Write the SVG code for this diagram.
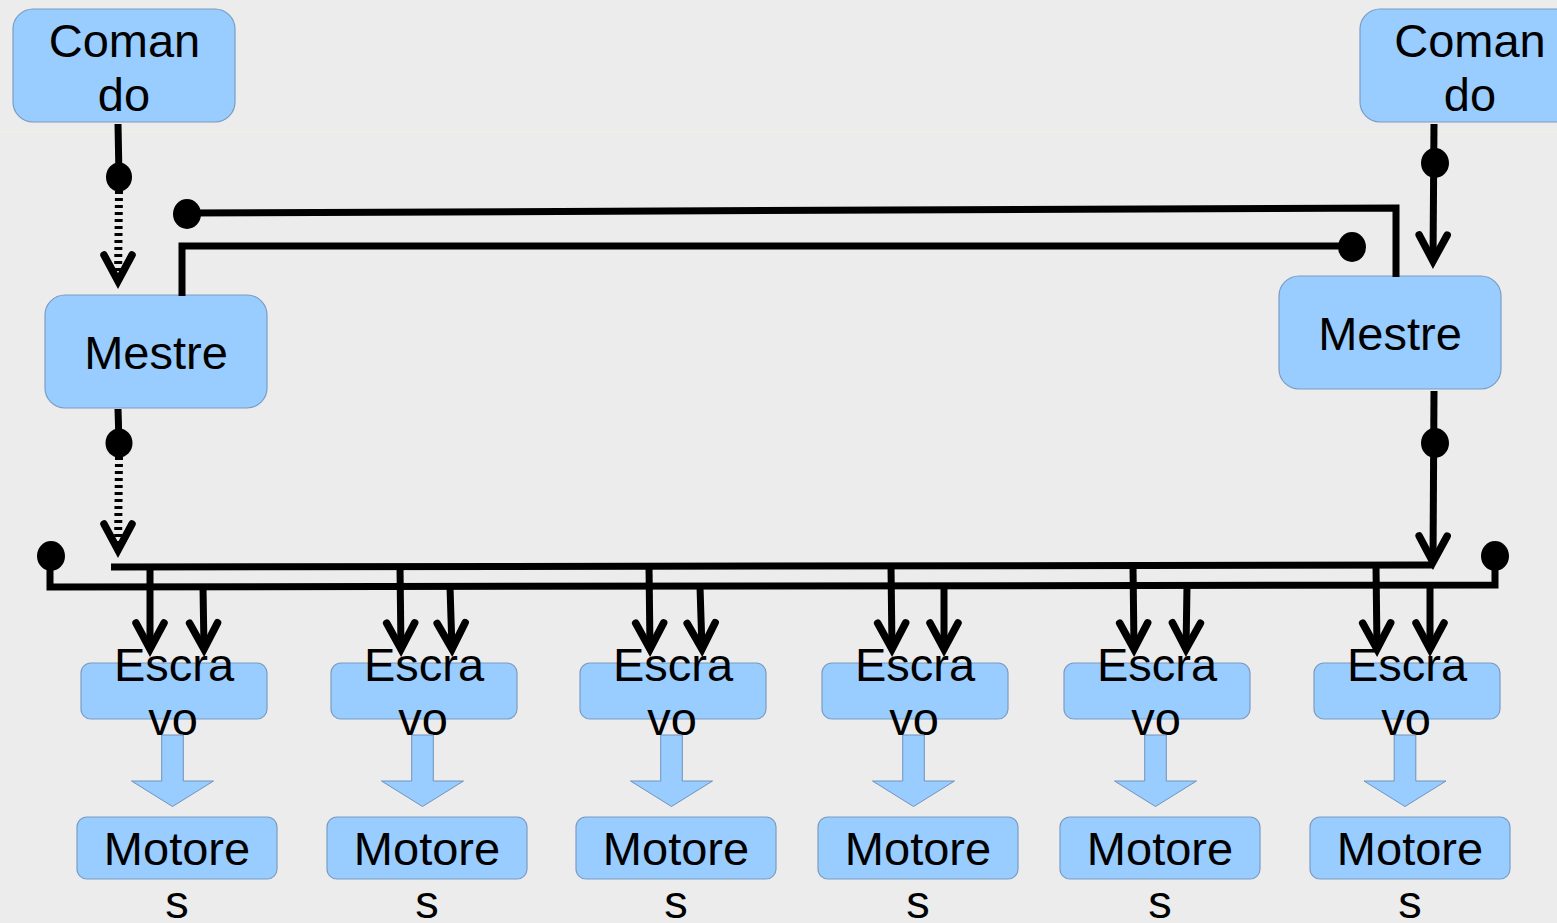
<svg xmlns="http://www.w3.org/2000/svg" width="1557" height="923" viewBox="0 0 1557 923">
<style>
.box{fill:#99ccff;stroke:#7b9cc2;stroke-width:1.2}
.t{font-family:"Liberation Sans",Arial,sans-serif;font-size:47px;fill:#000;text-anchor:middle}
.ln{fill:none;stroke:#000;stroke-width:7;stroke-linejoin:miter}
.dot{fill:#000}
.dash{fill:none;stroke:#000;stroke-width:8;stroke-dasharray:3 4}
.blk{fill:#99ccff;stroke:#6f93bd;stroke-width:1}
</style>
<defs>
<marker id="ah" markerUnits="userSpaceOnUse" viewBox="-40 -20 55 40" refX="0" refY="0" markerWidth="55" markerHeight="40" orient="auto" overflow="visible">
<path d="M-26,-14 L0,0 L-26,14" fill="none" stroke="#000" stroke-width="7.5" stroke-linecap="round" stroke-linejoin="miter"/>
</marker>
<path id="barr" d="M-10.8,0 L10.8,0 L10.8,46 L41,46 L0,71.5 L-41,46 L-10.8,46 Z"/>
</defs>
<rect width="1557" height="923" fill="#ececec"/>
<line x1="0" y1="131.5" x2="1557" y2="131.5" stroke="#f2f2d6" stroke-width="1"/>

<g id="comando-left"><rect class="box" x="13" y="9" width="222" height="113" rx="20"/><text class="t" x="124.5" y="57">Coman</text><text class="t" x="124" y="111">do</text></g>
<g id="comando-right"><rect class="box" x="1360" y="9" width="222" height="113" rx="20"/><text class="t" x="1470" y="57">Coman</text><text class="t" x="1470" y="111">do</text></g>
<g id="mestre-left"><rect class="box" x="45" y="295" width="222" height="113" rx="20"/><text class="t" x="156" y="369">Mestre</text></g>
<g id="mestre-right"><rect class="box" x="1279" y="276" width="222" height="113" rx="20"/><text class="t" x="1390" y="350">Mestre</text></g>

<g id="escravo-1"><rect class="box" x="81" y="663" width="186" height="56" rx="10"/><text class="t" x="174" y="681">Escra</text><text class="t" x="173" y="735">vo</text></g>
<g id="escravo-2"><rect class="box" x="331" y="663" width="186" height="56" rx="10"/><text class="t" x="424" y="681">Escra</text><text class="t" x="423" y="735">vo</text></g>
<g id="escravo-3"><rect class="box" x="580" y="663" width="186" height="56" rx="10"/><text class="t" x="673" y="681">Escra</text><text class="t" x="672" y="735">vo</text></g>
<g id="escravo-4"><rect class="box" x="822" y="663" width="186" height="56" rx="10"/><text class="t" x="915" y="681">Escra</text><text class="t" x="914" y="735">vo</text></g>
<g id="escravo-5"><rect class="box" x="1064" y="663" width="186" height="56" rx="10"/><text class="t" x="1157" y="681">Escra</text><text class="t" x="1156" y="735">vo</text></g>
<g id="escravo-6"><rect class="box" x="1314" y="663" width="186" height="56" rx="10"/><text class="t" x="1407" y="681">Escra</text><text class="t" x="1406" y="735">vo</text></g>

<g id="motores-1"><rect class="box" x="77" y="817" width="200" height="62" rx="10"/><text class="t" x="177" y="865">Motore</text><text class="t" x="177" y="918">s</text></g>
<g id="motores-2"><rect class="box" x="327" y="817" width="200" height="62" rx="10"/><text class="t" x="427" y="865">Motore</text><text class="t" x="427" y="918">s</text></g>
<g id="motores-3"><rect class="box" x="576" y="817" width="200" height="62" rx="10"/><text class="t" x="676" y="865">Motore</text><text class="t" x="676" y="918">s</text></g>
<g id="motores-4"><rect class="box" x="818" y="817" width="200" height="62" rx="10"/><text class="t" x="918" y="865">Motore</text><text class="t" x="918" y="918">s</text></g>
<g id="motores-5"><rect class="box" x="1060" y="817" width="200" height="62" rx="10"/><text class="t" x="1160" y="865">Motore</text><text class="t" x="1160" y="918">s</text></g>
<g id="motores-6"><rect class="box" x="1310" y="817" width="200" height="62" rx="10"/><text class="t" x="1410" y="865">Motore</text><text class="t" x="1410" y="918">s</text></g>

<g id="connectors">
<!-- block arrows escravo -> motores -->
<use href="#barr" class="blk" transform="translate(172.5,735)"/>
<use href="#barr" class="blk" transform="translate(422.5,735)"/>
<use href="#barr" class="blk" transform="translate(671.5,735)"/>
<use href="#barr" class="blk" transform="translate(913.5,735)"/>
<use href="#barr" class="blk" transform="translate(1155.5,735)"/>
<use href="#barr" class="blk" transform="translate(1405,735)"/>

<!-- left comando -> mestre -->
<path class="ln" d="M118,124 L119,177"/>
<ellipse class="dot" cx="119" cy="177" rx="13" ry="14.5"/>
<path class="dash" d="M119,191 L118,281"/>
<path class="ln" d="M118,280 L118,281" marker-end="url(#ah)"/>

<!-- left mestre -> bus -->
<path class="ln" d="M118,409 L119,443"/>
<ellipse class="dot" cx="119" cy="443" rx="13.5" ry="14.5"/>
<path class="dash" d="M119,457 L118,550"/>
<path class="ln" d="M118,549 L118,550" marker-end="url(#ah)"/>

<!-- right comando -> mestre -->
<path class="ln" d="M1434,124 L1433,261" marker-end="url(#ah)"/>
<ellipse class="dot" cx="1435" cy="163" rx="14" ry="15"/>

<!-- right mestre -> bus -->
<path class="ln" d="M1434,391 L1433,562" marker-end="url(#ah)"/>
<ellipse class="dot" cx="1435" cy="443" rx="14" ry="15"/>

<!-- cross links -->
<path class="ln" d="M187,213 L1396,208 L1396,277"/>
<ellipse class="dot" cx="187" cy="214" rx="14" ry="15"/>
<path class="ln" d="M182,296 L182,246 L1352,246"/>
<ellipse class="dot" cx="1352" cy="247" rx="14" ry="15"/>

<!-- buses -->
<path class="ln" d="M111,567 L1434,565"/>
<path class="ln" d="M50,556 L50,587 L1495,585 L1495,556"/>
<ellipse class="dot" cx="51" cy="556" rx="14" ry="15"/>
<ellipse class="dot" cx="1495" cy="556" rx="14" ry="15"/>

<!-- drops -->
<path class="ln" d="M150,567 L150,649" marker-end="url(#ah)"/>
<path class="ln" d="M203,587 L204,649" marker-end="url(#ah)"/>
<path class="ln" d="M400,567 L401,649" marker-end="url(#ah)"/>
<path class="ln" d="M450,587 L452,649" marker-end="url(#ah)"/>
<path class="ln" d="M649,566 L650,649" marker-end="url(#ah)"/>
<path class="ln" d="M700,587 L702,649" marker-end="url(#ah)"/>
<path class="ln" d="M891,566 L892,649" marker-end="url(#ah)"/>
<path class="ln" d="M944,586 L944,649" marker-end="url(#ah)"/>
<path class="ln" d="M1133,566 L1134,649" marker-end="url(#ah)"/>
<path class="ln" d="M1187,586 L1186,649" marker-end="url(#ah)"/>
<path class="ln" d="M1376,566 L1377,649" marker-end="url(#ah)"/>
<path class="ln" d="M1430,586 L1430,649" marker-end="url(#ah)"/>
</g>
</svg>
